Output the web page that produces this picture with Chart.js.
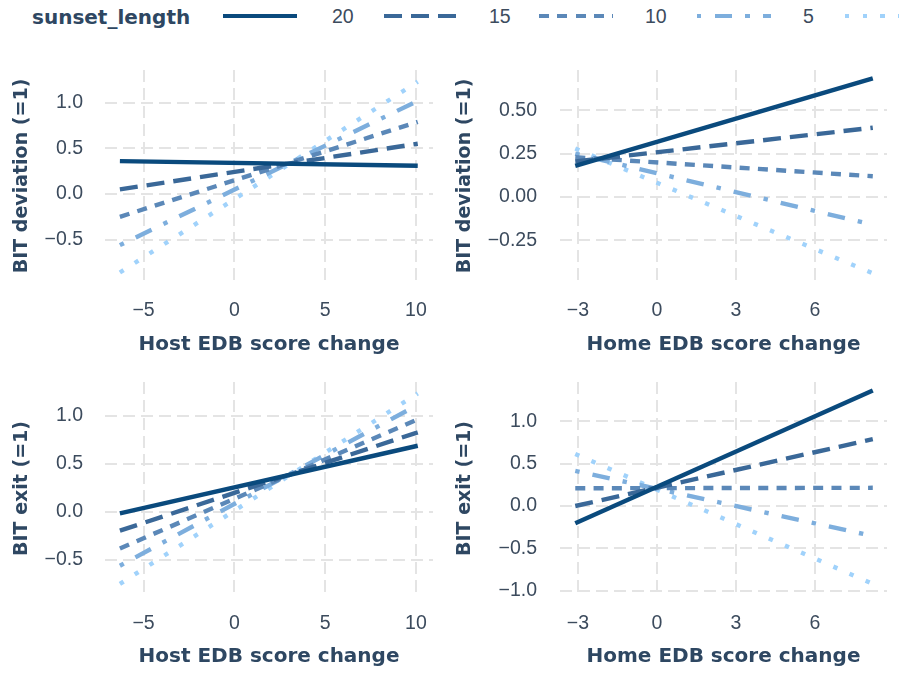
<!DOCTYPE html>
<html>
<head>
<meta charset="utf-8">
<script src="https://cdn.jsdelivr.net/npm/chart.js@4.4.1/dist/chart.umd.min.js"></script>
<style>
  html, body { margin: 0; padding: 0; background: #fff; overflow: hidden; }
  #wrap { position: relative; width: 899px; height: 673px; overflow: hidden; }
  canvas { position: absolute; }
  #legend { position: absolute; left: 0; top: 0; width: 899px; height: 36px; overflow: hidden; }
  .lg-title { position: absolute; left: 32px; top: 5px; line-height: 30px; font: bold 20px "DejaVu Sans"; color: #2e4762; }
  .lg-key { position: absolute; top: 14px; width: 74px; height: 4.4px; }
  .lg-lab { position: absolute; top: 5px; line-height: 30px; font: 19.5px "Liberation Sans"; color: #3c4b5d; }
</style>
</head>
<body>
<div id="wrap">
  <div id="legend"></div>
  <canvas id="devHost" width="445" height="310" style="left:0;top:50px"></canvas>
  <canvas id="devHome" width="454" height="310" style="left:445px;top:50px"></canvas>
  <canvas id="exitHost" width="445" height="310" style="left:0;top:362px"></canvas>
  <canvas id="exitHome" width="454" height="310" style="left:445px;top:362px"></canvas>
</div>
<script>
// legend order
const sunsetLengths = ['20', '15', '10', '5', '0'];
const lineColors = ['#0a4a7d', '#3a6898', '#5b88b8', '#7daedd', '#a0d2fb'];
const lineDashes = [[], [18, 9], [10, 8.3], [4.4, 13.2, 17.6, 13.2], [4.4, 13.2]];

// x range covered by the fitted lines
const hostX = [-6.3, 10.1];
const homeX = [-3.1, 8.2];

const hostTicks = [-5, 0, 5, 10];
const homeTicks = [-3, 0, 3, 6];
const devHostTicks = [-0.5, 0, 0.5, 1];
const devHomeTicks = [-0.25, 0, 0.25, 0.5];
const exitHostTicks = [-0.5, 0, 0.5, 1];
const exitHomeTicks = [-1, -0.5, 0, 0.5, 1];

// predicted value at left / right end, in sunsetLengths order
const devHostStart = [0.36, 0.05, -0.25, -0.56, -0.86];
const devHostEnd = [0.31, 0.55, 0.79, 1.02, 1.23];
const devHomeStart = [0.18, 0.205, 0.23, 0.25, 0.28];
const devHomeEnd = [0.685, 0.40, 0.12, -0.16, -0.44];
const exitHostStart = [-0.015, -0.195, -0.38, -0.56, -0.75];
const exitHostEnd = [0.69, 0.83, 0.965, 1.115, 1.235];
const exitHomeStart = [-0.205, 0.0, 0.21, 0.415, 0.615];
const exitHomeEnd = [1.365, 0.79, 0.215, -0.355, -0.92];

const titleColor = '#2e4762';
const tickColor = '#3c4b5d';
const gridColor = '#e4e4e4';

function minus(s) {
    return s.replace('-', '\u2212');
}

function buildLegend() {
    const lg = document.getElementById('legend');
    lg.innerHTML = '<span class="lg-title">sunset_length</span>';
    const keyLeft = [223, 384, 539, 697, 845];
    const labLeft = [332, 489, 645, 803, 952];
    sunsetLengths.forEach((s, i) => {
        const key = document.createElement('div');
        key.className = 'lg-key';
        key.style.left = keyLeft[i] + 'px';
        const c = lineColors[i];
        const d = lineDashes[i];
        if (d.length === 0) {
            key.style.background = c;
        } else {
            let pos = 0, stops = [];
            d.forEach((len, j) => {
                const col = j % 2 === 0 ? c : 'transparent';
                stops.push(col + ' ' + pos + 'px ' + (pos + len) + 'px');
                pos += len;
            });
            key.style.background = 'repeating-linear-gradient(to right, ' + stops.join(', ') + ')';
        }
        lg.appendChild(key);
        const lab = document.createElement('span');
        lab.className = 'lg-lab';
        lab.style.left = labLeft[i] + 'px';
        lab.textContent = s;
        lg.appendChild(lab);
    });
}

function noPad(s) {
    s.paddingTop = 0;
    s.paddingBottom = 0;
    s.paddingLeft = 0;
    s.paddingRight = 0;
}

function panel(id, cfg) {
    const datasets = sunsetLengths.map((s, i) => ({
        label: s,
        data: cfg.xs.map((x, j) => ({x: x, y: j === 0 ? cfg.start[i] : cfg.end[i]})),
        borderColor: lineColors[i],
        borderDash: lineDashes[i],
        borderWidth: 4.4,
        borderCapStyle: 'butt',
        pointRadius: 0,
        fill: false
    }));
    return new Chart(document.getElementById(id), {
        type: 'line',
        data: { datasets: datasets },
        options: {
            responsive: false,
            animation: false,
            layout: { padding: { left: 0, right: cfg.padRight, top: 20, bottom: 0 } },
            plugins: { legend: { display: false }, tooltip: { enabled: false } },
            scales: {
                x: {
                    type: 'linear',
                    min: cfg.xMin,
                    max: cfg.xMax,
                    afterBuildTicks: (s) => { s.ticks = cfg.xTicks.map(v => ({value: v})); },
                    afterFit: (s) => { s.height = cfg.xHeight; noPad(s); },
                    grid: { color: gridColor, lineWidth: 2, drawTicks: false },
                    border: { display: false, dash: [12, 6] },
                    ticks: {
                        padding: 17,
                        color: tickColor,
                        font: { family: 'Liberation Sans', size: 19.5 },
                        maxRotation: 0,
                        autoSkip: false,
                        callback: (v) => minus(String(v))
                    },
                    title: {
                        display: true,
                        text: cfg.xTitle,
                        color: titleColor,
                        font: { family: 'DejaVu Sans', size: 20, weight: 'bold' },
                        padding: { top: 0, bottom: 3 }
                    }
                },
                y: {
                    type: 'linear',
                    min: cfg.yMin,
                    max: cfg.yMax,
                    afterBuildTicks: (s) => { s.ticks = cfg.yTicks.map(v => ({value: v})); },
                    afterFit: (s) => { s.width = cfg.yWidth; noPad(s); },
                    grid: { color: gridColor, lineWidth: 2, drawTicks: false },
                    border: { display: false, dash: [12, 6] },
                    ticks: {
                        padding: cfg.yPad,
                        color: tickColor,
                        font: { family: 'Liberation Sans', size: 19.5 },
                        autoSkip: false,
                        callback: (v) => minus(v.toFixed(cfg.decimals))
                    },
                    title: {
                        display: true,
                        text: cfg.yTitle,
                        color: titleColor,
                        font: { family: 'DejaVu Sans', size: 19, weight: 'bold' },
                        padding: { top: cfg.yTitlePad, bottom: 0 }
                    }
                }
            }
        }
    });
}

buildLegend();

panel('devHost', {
    xs: hostX, start: devHostStart, end: devHostEnd,
    xMin: -7.12, xMax: 10.94, yMin: -0.964, yMax: 1.358,
    xTicks: hostTicks, yTicks: devHostTicks, decimals: 1,
    xTitle: 'Host EDB score change', yTitle: 'BIT deviation (=1)',
    padRight: 12, xHeight: 78, yWidth: 105, yPad: 22, yTitlePad: 11
});
panel('devHome', {
    xs: homeX, start: devHomeStart, end: devHomeEnd,
    xMin: -3.68, xMax: 8.74, yMin: -0.49, yMax: 0.733,
    xTicks: homeTicks, yTicks: devHomeTicks, decimals: 2,
    xTitle: 'Home EDB score change', yTitle: 'BIT deviation (=1)',
    padRight: 12, xHeight: 78, yWidth: 115, yPad: 23, yTitlePad: 9
});
panel('exitHost', {
    xs: hostX, start: exitHostStart, end: exitHostEnd,
    xMin: -7.12, xMax: 10.94, yMin: -0.865, yMax: 1.354,
    xTicks: hostTicks, yTicks: exitHostTicks, decimals: 1,
    xTitle: 'Host EDB score change', yTitle: 'BIT exit (=1)',
    padRight: 12, xHeight: 77, yWidth: 105, yPad: 22, yTitlePad: 11
});
panel('exitHome', {
    xs: homeX, start: exitHomeStart, end: exitHomeEnd,
    xMin: -3.68, xMax: 8.74, yMin: -1.052, yMax: 1.466,
    xTicks: homeTicks, yTicks: exitHomeTicks, decimals: 1,
    xTitle: 'Home EDB score change', yTitle: 'BIT exit (=1)',
    padRight: 12, xHeight: 77, yWidth: 115, yPad: 23, yTitlePad: 9
});
</script>
</body>
</html>
